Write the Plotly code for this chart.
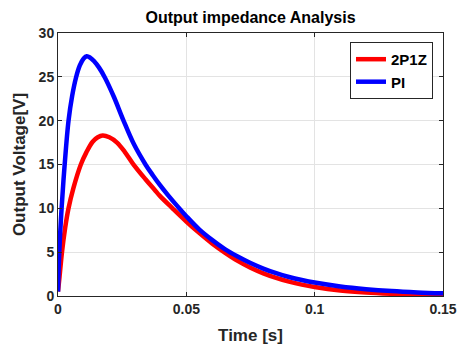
import plotly.graph_objects as go

t_pi = [0, 0.0005, 0.0014, 0.0026, 0.0041, 0.0055, 0.007, 0.0085, 0.01, 0.0112,
        0.0125, 0.014, 0.016, 0.0183, 0.0218, 0.0254, 0.0296, 0.0342, 0.037, 0.0396,
        0.043, 0.0465, 0.05, 0.055, 0.06, 0.065, 0.07, 0.075, 0.08, 0.085,
        0.09, 0.095, 0.1, 0.11, 0.12, 0.13, 0.14, 0.15]
v_pi = [0.5, 5.0, 10.0, 15.0, 20.0, 22.8, 24.9, 26.3, 27.1, 27.35,
        27.2, 26.8, 26.05, 24.9, 22.7, 20.1, 17.3, 14.95, 13.75, 12.7,
        11.45, 10.25, 9.1, 7.6, 6.4, 5.35, 4.5, 3.76, 3.13, 2.6,
        2.17, 1.82, 1.53, 1.09, 0.78, 0.56, 0.41, 0.3]

t_2p1z = [0, 0.0006, 0.00155, 0.0028, 0.0041, 0.006, 0.0089, 0.011, 0.0135, 0.0155,
          0.0174, 0.02, 0.023, 0.026, 0.0293, 0.034, 0.0377, 0.0396, 0.0448, 0.05,
          0.055, 0.06, 0.065, 0.07, 0.075, 0.08, 0.085, 0.09, 0.095, 0.1,
          0.11, 0.12, 0.13, 0.14, 0.15]
v_2p1z = [0.5, 2.2, 5.0, 7.8, 10.0, 12.3, 15.0, 16.35, 17.6, 18.1,
          18.3, 18.1, 17.5, 16.45, 15.05, 13.35, 12.1, 11.45, 9.95, 8.5,
          7.2, 6.0, 4.95, 4.0, 3.22, 2.58, 2.06, 1.64, 1.3, 1.03,
          0.64, 0.4, 0.25, 0.15, 0.09]

x_ticks = [0, 0.05, 0.1, 0.15]
x_labels = ["0", "0.05", "0.1", "0.15"]
y_ticks = [0, 5, 10, 15, 20, 25, 30]

FONT = "Liberation Sans, Arial, sans-serif"
DARK = "#262626"

fig = go.Figure()
fig.add_trace(go.Scatter(x=t_2p1z, y=v_2p1z, mode="lines", name="2P1Z",
                         line=dict(color="#ff0000", width=4.5, shape="spline", smoothing=1.0)))
fig.add_trace(go.Scatter(x=t_pi, y=v_pi, mode="lines", name="PI",
                         line=dict(color="#0000ff", width=4.5, shape="spline", smoothing=1.0)))

axis_common = dict(
    showline=True, linecolor=DARK, linewidth=1, mirror="ticks",
    ticks="inside", ticklen=4, tickcolor=DARK,
    showgrid=True, gridcolor="#e3e3e3", gridwidth=1, zeroline=False,
    automargin=False,
    tickfont=dict(family=FONT, size=14, color=DARK, weight="bold"),
)

fig.update_layout(
    width=458, height=347,
    margin=dict(l=58, r=15, t=33, b=51),
    paper_bgcolor="white", plot_bgcolor="white",
    title=dict(text="Output impedance Analysis", x=(58 + 443) / 2 / 458, xanchor="center",
               y=1 - 17 / 347, yanchor="middle",
               font=dict(family=FONT, size=16, color="#000000", weight="bold")),
    xaxis=dict(range=[0, 0.15], tickvals=x_ticks, ticktext=x_labels,
               title=dict(text="Time [s]", standoff=13,
                          font=dict(family=FONT, size=17, color=DARK, weight="bold")),
               **axis_common),
    yaxis=dict(range=[0, 30], tickvals=y_ticks,
               title=dict(text="Output Voltage[V]", standoff=8,
                          font=dict(family=FONT, size=17, color=DARK, weight="bold")),
               **axis_common),
    legend=dict(x=0.974, y=0.966, xanchor="right", yanchor="top",
                bgcolor="white", bordercolor=DARK, borderwidth=1,
                font=dict(family=FONT, size=15, color="#000000", weight="bold"),
                itemwidth=30, tracegroupgap=0),
    showlegend=True,
)

fig.write_html("out.html")
